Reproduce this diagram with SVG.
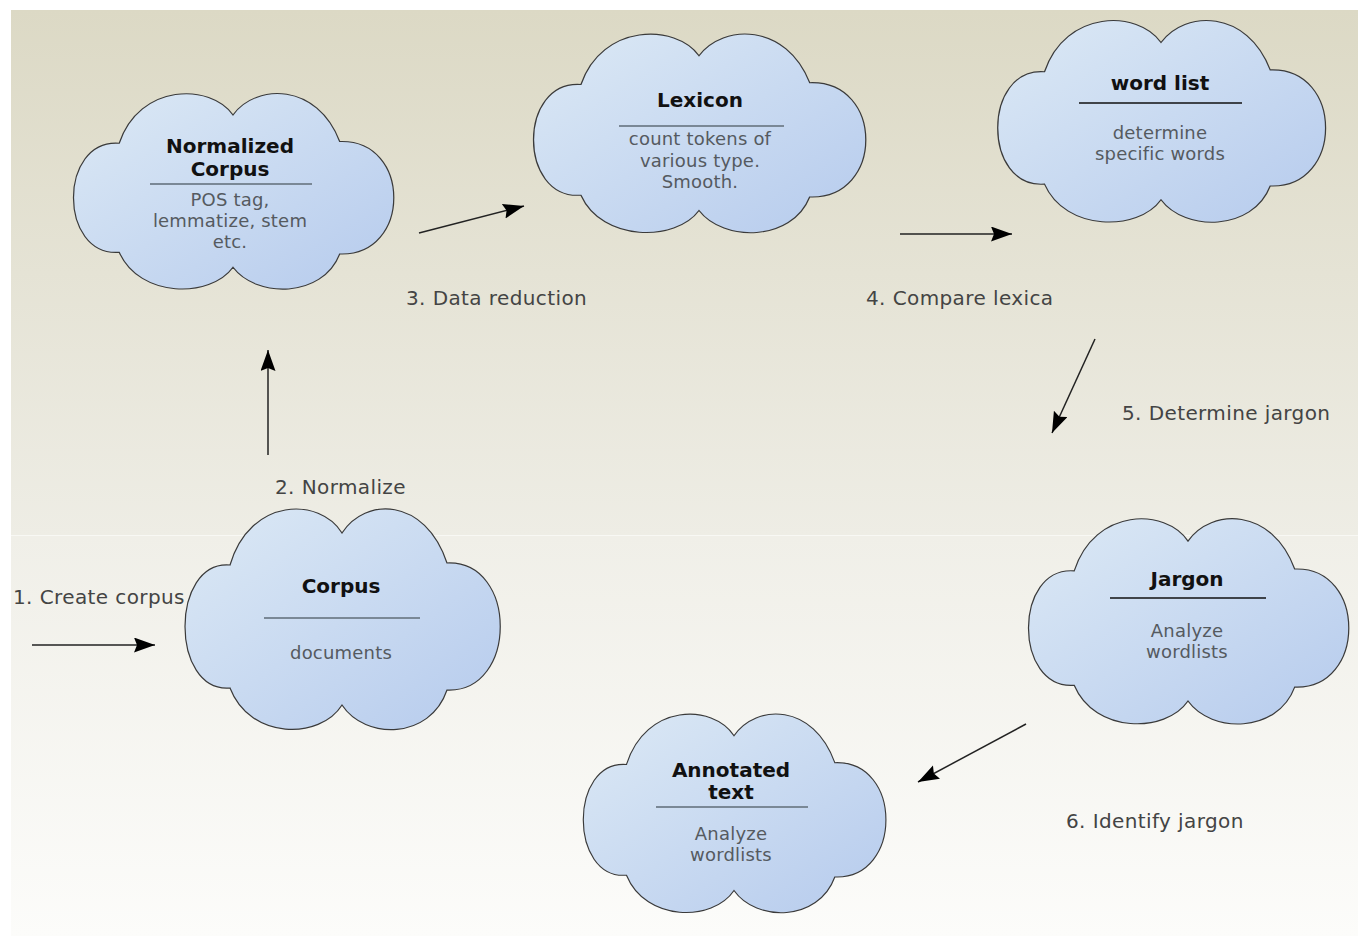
<svg xmlns="http://www.w3.org/2000/svg" width="1358" height="936" viewBox="0 0 1358 936">
<defs>
<linearGradient id="bgTop" x1="0" y1="0" x2="0" y2="1">
<stop offset="0" stop-color="#dcd9c5"/>
<stop offset="1" stop-color="#eeede5"/>
</linearGradient>
<linearGradient id="bgBot" x1="0" y1="0" x2="0" y2="1">
<stop offset="0" stop-color="#f0efe8"/>
<stop offset="1" stop-color="#fcfcfa"/>
</linearGradient>
<linearGradient id="cloudFill" x1="0" y1="0" x2="1" y2="1">
<stop offset="0" stop-color="#dce9f5"/>
<stop offset="1" stop-color="#b6cbed"/>
</linearGradient>
<path id="cloud" d="M 0,-87 C 23,-123 83,-123 105,-57 C 176,-60 176,73 105,70 C 88,120 23,120 0,85 C -22,120 -92,120 -112,68 C -172,73 -172,-60 -112,-55 C -92,-123 -22,-123 0,-87 Z"/>
<marker id="arrow" markerUnits="userSpaceOnUse" markerWidth="26" markerHeight="18" refX="21" refY="7.5" orient="auto">
<path d="M0,0 L21,7.5 L0,15 L3,7.5 Z" fill="#000"/>
</marker>
</defs>
<style>
.cloud{fill:url(#cloudFill);stroke:#3a3a3a;stroke-width:1.2;vector-effect:non-scaling-stroke}
.title{font-family:"DejaVu Sans",Verdana,sans-serif;font-size:20px;font-weight:bold;fill:#111;text-anchor:middle;dominant-baseline:central}
.sub{font-family:"DejaVu Sans",Verdana,sans-serif;font-size:18px;letter-spacing:0.2px;fill:#555a60;text-anchor:middle;dominant-baseline:central}
.label{font-family:"DejaVu Sans",Verdana,sans-serif;font-size:20px;letter-spacing:0.4px;fill:#444;dominant-baseline:central}
.div{stroke:#7a8896;stroke-width:2}
.divd{stroke:#111;stroke-width:1.5}
.conn{stroke:#222;stroke-width:1.5;fill:none;marker-end:url(#arrow)}
</style>
<rect x="0" y="0" width="1358" height="936" fill="#ffffff"/>
<rect x="11" y="10" width="1347" height="525" fill="url(#bgTop)"/>
<rect x="11" y="536" width="1347" height="400" fill="url(#bgBot)"/>
<line x1="11" y1="535.5" x2="1358" y2="535.5" stroke="#f8f8f4" stroke-width="1"/>

<g id="node-normalized-corpus">
<use href="#cloud" class="cloud" transform="translate(233,192) scale(1.016,0.886)"/>
<text class="title" x="230" y="146">Normalized</text>
<text class="title" x="230" y="169">Corpus</text>
<line class="div" x1="150" y1="184" x2="312" y2="184"/>
<text class="sub" x="230" y="199">POS tag,</text>
<text class="sub" x="230" y="220">lemmatize, stem</text>
<text class="sub" x="230" y="241">etc.</text>
</g>

<g id="node-lexicon">
<use href="#cloud" class="cloud" transform="translate(699,134) scale(1.054,0.9)"/>
<text class="title" x="700" y="100">Lexicon</text>
<line class="div" x1="619" y1="126" x2="784" y2="126"/>
<text class="sub" x="700" y="138">count tokens of</text>
<text class="sub" x="700" y="160">various type.</text>
<text class="sub" x="700" y="181">Smooth.</text>
</g>

<g id="node-word-list">
<use href="#cloud" class="cloud" transform="translate(1161,122) scale(1.04,0.914)"/>
<text class="title" x="1160" y="83">word list</text>
<line class="divd" x1="1079" y1="103" x2="1242" y2="103"/>
<text class="sub" x="1160" y="132">determine</text>
<text class="sub" x="1160" y="153">specific words</text>
</g>

<g id="node-corpus">
<use href="#cloud" class="cloud" transform="translate(342,620)"/>
<text class="title" x="341" y="586">Corpus</text>
<line class="div" x1="264" y1="618" x2="420" y2="618"/>
<text class="sub" x="341" y="652">documents</text>
</g>

<g id="node-jargon">
<use href="#cloud" class="cloud" transform="translate(1188,622) scale(1.016,0.93)"/>
<text class="title" x="1187" y="579">Jargon</text>
<line class="divd" x1="1110" y1="598" x2="1266" y2="598"/>
<text class="sub" x="1187" y="630">Analyze</text>
<text class="sub" x="1187" y="651">wordlists</text>
</g>

<g id="node-annotated-text">
<use href="#cloud" class="cloud" transform="translate(734,814) scale(0.96,0.9)"/>
<text class="title" x="731" y="770">Annotated</text>
<text class="title" x="731" y="792">text</text>
<line class="div" x1="656" y1="807" x2="808" y2="807"/>
<text class="sub" x="731" y="833">Analyze</text>
<text class="sub" x="731" y="854">wordlists</text>
</g>

<g id="connectors">
<line class="conn" x1="32" y1="645" x2="155" y2="645"/>
<line class="conn" x1="268" y1="455" x2="268" y2="350"/>
<line class="conn" x1="419" y1="233" x2="524" y2="206"/>
<line class="conn" x1="900" y1="234" x2="1012" y2="234"/>
<line class="conn" x1="1095" y1="339" x2="1052" y2="433"/>
<line class="conn" x1="1026" y1="724" x2="918" y2="782"/>
</g>

<g id="labels">
<text class="label" x="13" y="597">1. Create corpus</text>
<text class="label" x="275" y="487">2. Normalize</text>
<text class="label" x="406" y="298">3. Data reduction</text>
<text class="label" x="866" y="298">4. Compare lexica</text>
<text class="label" x="1122" y="413">5. Determine jargon</text>
<text class="label" x="1066" y="821">6. Identify jargon</text>
</g>
</svg>
